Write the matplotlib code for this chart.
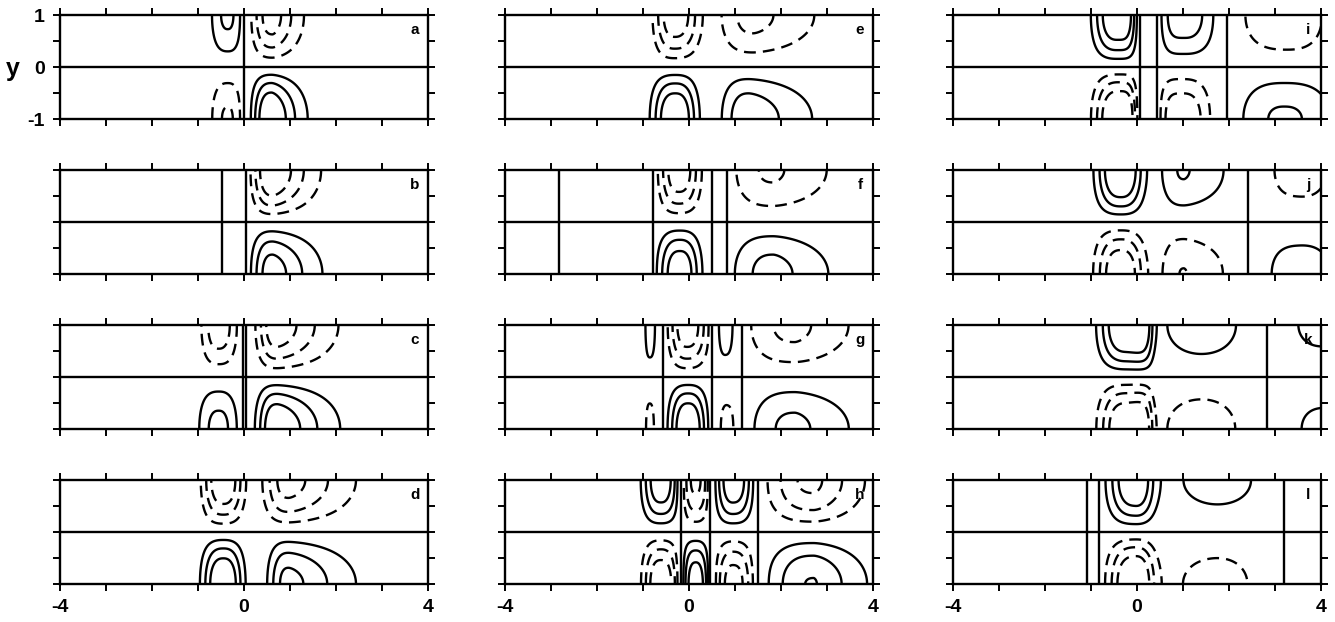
import numpy as np
import matplotlib
matplotlib.use("Agg")
import matplotlib.pyplot as plt

plt.rcParams["font.family"] = ["Liberation Sans", "DejaVu Sans"]
plt.rcParams["axes.unicode_minus"] = False
plt.rcParams["lines.dashed_pattern"] = [5.0, 3.0]

# zero lines (vertical nodes) and lobes for each panel
# lobe = (centre, amplitude, left width, right width, left power, right power)
a_zeros = [0.0]
a_upper = [(-0.35, 2.2, 0.38, 0.32, 2.5, 2.5), (0.62, -3.6, 0.43, 0.58, 2.5, 1.5)]
a_lower = [(-0.35, -2.14, 0.38, 0.32, 2.5, 2.5), (0.60, 4.3, 0.40, 0.61, 2.5, 1.5)]

b_zeros = [-0.47, 0.05]
b_upper = [(0.62, -4.2, 0.42, 0.83, 2.5, 1.5)]
b_lower = [(0.62, 3.6, 0.43, 0.92, 2.5, 1.5)]

c_zeros = [-0.03, 0.05]
c_upper = [(-0.55, -2.65, 0.38, 0.40, 2.5, 2.5), (0.72, -3.8, 0.42, 1.10, 2.5, 1.5)]
c_lower = [(-0.55, 2.35, 0.45, 0.42, 2.5, 2.5), (0.72, 4.1, 0.42, 1.09, 2.5, 1.5)]

d_zeros = []
d_upper = [(-0.45, -4.0, 0.43, 0.43, 2.5, 2.5), (0.97, -3.5, 0.52, 1.26, 2.5, 1.5)]
d_lower = [(-0.45, 4.2, 0.44, 0.42, 2.5, 2.5), (0.97, 3.4, 0.43, 1.28, 2.5, 1.5)]

e_zeros = []
e_upper = [(-0.31, -3.8, 0.43, 0.52, 2.5, 2.5), (1.40, -2.35, 0.73, 1.47, 2.5, 1.5)]
e_lower = [(-0.30, 4.2, 0.48, 0.46, 2.5, 2.5), (1.30, 2.8, 0.58, 1.35, 2.5, 1.5)]

f_zeros = [-2.82, -0.79, 0.51, 0.83]
f_upper = [(-0.22, -3.8, 0.41, 0.44, 2.5, 2.5), (1.83, -2.15, 0.89, 1.39, 2.5, 1.5)]
f_lower = [(-0.20, 3.9, 0.45, 0.43, 2.5, 2.5), (1.83, 2.4, 0.88, 1.31, 2.5, 1.5)]

g_zeros = [-0.57, 0.50, 1.15]
g_upper = [(-0.85, 1.8, 0.12, 0.14, 2.5, 2.5), (-0.04, -3.8, 0.38, 0.43, 2.5, 2.5),
           (0.80, 1.8, 0.22, 0.23, 2.5, 2.5), (2.30, -2.3, 1.02, 1.32, 2.5, 1.5)]
g_lower = [(-0.85, -1.4, 0.13, 0.14, 2.5, 2.5), (-0.02, 4.2, 0.39, 0.39, 2.5, 2.5),
           (0.84, -1.45, 0.25, 0.25, 2.5, 2.5), (2.30, 2.27, 0.95, 1.34, 2.5, 1.5)]

h_zeros = [-0.18, 0.46, 1.50]
h_upper = [(-0.61, 3.85, 0.39, 0.38, 2.5, 2.5), (0.14, -3.3, 0.30, 0.30, 2.5, 2.5),
           (0.97, 3.9, 0.38, 0.42, 2.5, 2.5), (2.71, -3.25, 0.96, 1.00, 2.5, 1.5)]
h_lower = [(-0.61, -4.0, 0.38, 0.38, 2.5, 2.5), (0.14, 3.8, 0.30, 0.30, 2.5, 2.5),
           (0.97, -3.6, 0.38, 0.42, 2.5, 2.5), (2.71, 3.05, 0.95, 1.08, 2.5, 1.5)]

i_zeros = [0.07, 0.44, 1.95]
i_upper = [(-0.43, 4.1, 0.50, 0.40, 2.5, 4.0), (1.04, 2.6, 0.52, 0.66, 4.0, 2.5),
           (3.25, -2.0, 1.04, 0.90, 2.5, 2.5)]
i_lower = [(-0.40, -4.5, 0.51, 0.38, 2.5, 4.0), (1.00, -2.8, 0.50, 0.60, 4.0, 2.5),
           (3.20, 2.15, 0.99, 1.10, 2.5, 2.5)]

j_zeros = [2.41]
j_upper = [(-0.35, 4.4, 0.51, 0.47, 2.5, 2.5), (1.02, 2.08, 0.53, 1.08, 2.5, 1.5),
           (3.50, -1.5, 0.90, 0.90, 2.5, 2.5)]
j_lower = [(-0.35, -4.0, 0.53, 0.50, 2.5, 2.5), (1.02, -2.03, 0.52, 1.10, 2.5, 1.5),
           (3.50, 1.6, 0.95, 0.95, 2.5, 2.5)]

k_zeros = [2.83]
k_upper = [(-0.25, 4.2, 0.55, 0.575, 2.5, 6.0), (1.40, 1.56, 1.11, 1.12, 2.0, 2.0),
           (4.10, 1.25, 1.00, 1.00, 2.5, 2.5)]
k_lower = [(-0.25, -4.1, 0.55, 0.575, 2.5, 6.0), (1.40, -1.60, 1.08, 1.08, 2.0, 2.0),
           (4.10, 1.25, 1.00, 1.00, 2.5, 2.5)]

l_zeros = [-1.09, -0.82, 3.20]
l_upper = [(-0.05, 4.0, 0.55, 0.41, 2.5, 2.5), (1.75, 1.35, 1.35, 1.33, 2.0, 2.0)]
l_lower = [(-0.05, -4.3, 0.55, 0.42, 2.5, 2.5), (1.75, -1.41, 1.28, 1.11, 2.0, 2.0)]

levels = [1, 2, 3]

columns = [
    [("a", a_zeros, a_upper, a_lower), ("b", b_zeros, b_upper, b_lower),
     ("c", c_zeros, c_upper, c_lower), ("d", d_zeros, d_upper, d_lower)],
    [("e", e_zeros, e_upper, e_lower), ("f", f_zeros, f_upper, f_lower),
     ("g", g_zeros, g_upper, g_lower), ("h", h_zeros, h_upper, h_lower)],
    [("i", i_zeros, i_upper, i_lower), ("j", j_zeros, j_upper, j_lower),
     ("k", k_zeros, k_upper, k_lower), ("l", l_zeros, l_upper, l_lower)],
]

x = np.linspace(-4, 4, 1201)
y = np.linspace(-1, 1, 241)
X, Y = np.meshgrid(x, y)


def profile(x, lobes):
    g = np.zeros_like(x)
    for x0, amp, wl, wr, pl, pr in lobes:
        u = x - x0
        left = np.exp(-(np.abs(u) / wl) ** pl)
        right = np.exp(-(np.abs(u) / wr) ** pr)
        g += amp * np.where(u < 0, left, right)
    return g


def node_mask(x, zeros, d=0.05):
    m = np.ones_like(x)
    for z in zeros:
        m *= np.abs(np.tanh((x - z) / d))
    return m


fig = plt.figure(figsize=(13.35, 6.22), dpi=100)
W, H = 1335.0, 622.0
col_left = [60, 505, 953]
row_top = [15, 170, 325, 480]
pw, ph = 368, 104

for ci, col in enumerate(columns):
    for ri, (name, zeros, upper, lower) in enumerate(col):
        ax = fig.add_axes([col_left[ci] / W, 1 - (row_top[ri] + ph) / H, pw / W, ph / H])
        m = node_mask(x, zeros)
        gu = profile(x, upper) * m
        gl = profile(x, lower) * m
        s = np.sin(np.pi * Y / 2)
        F = np.where(Y >= 0, s * gu[None, :], -s * gl[None, :])

        ax.contour(x, y, F, levels=levels, colors="k", linewidths=1.7, linestyles="solid")
        ax.contour(x, y, F, levels=[-v for v in levels[::-1]], colors="k",
                   linewidths=1.7, linestyles="dashed")
        for z in zeros:
            ax.axvline(z, color="k", lw=1.7)
        ax.axhline(0, color="k", lw=1.7)

        ax.set_xlim(-4, 4)
        ax.set_ylim(-1, 1)
        ax.set_xticks([-4, 0, 4])
        ax.set_xticks(np.arange(-4, 5), minor=True)
        ax.set_yticks([-1, 0, 1])
        ax.set_yticks([-0.5, 0.5], minor=True)
        ax.tick_params(which="both", direction="out", top=True, right=True,
                       length=5, width=1.4, labelsize=14)
        ax.tick_params(axis="x", pad=6)
        ax.tick_params(axis="y", pad=6)
        ax.tick_params(labelbottom=(ri == 3), labelleft=(ci == 0 and ri == 0))
        for lab in ax.get_xticklabels() + ax.get_yticklabels():
            lab.set_fontweight("bold")
        for sp in ax.spines.values():
            sp.set_linewidth(1.7)

        ax.text(3.72, 0.72, name, fontsize=11, fontweight="bold", ha="center", va="center")

        if ci == 0 and ri == 0:
            ax.text(-0.128, 0.48, "y", transform=ax.transAxes, fontsize=18,
                    fontweight="bold", ha="center", va="center")

fig.savefig("out.png", dpi=100)
